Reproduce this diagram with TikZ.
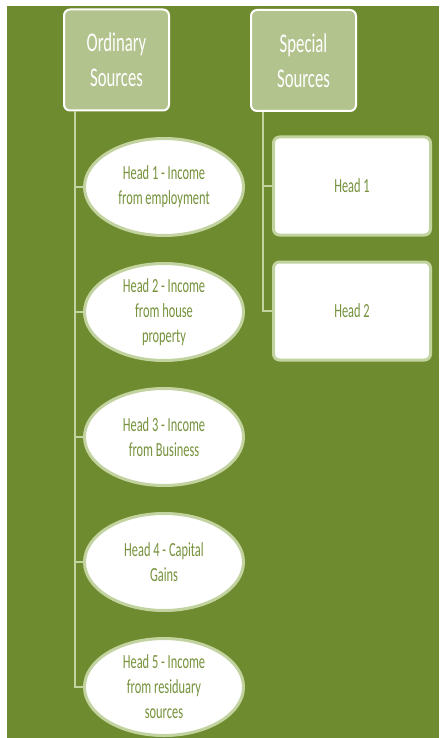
\documentclass[tikz,border=0pt]{standalone}
\usepackage{fontspec}
\setmainfont{Carlito}
\newfontfamily\narrowfont[FakeStretch=0.62]{Carlito}
\usetikzlibrary{shapes.geometric}

\definecolor{olivebg}{RGB}{111,139,48}
\definecolor{palegreen}{RGB}{179,195,142}
\definecolor{rimgreen}{RGB}{194,211,160}
\definecolor{textgreen}{RGB}{118,146,60}

\tikzset{
    source/.style={draw=white, line width=2pt, fill=palegreen, rounded corners=6pt,
        minimum width=105pt, minimum height=101pt, align=center, text=white,
        font=\narrowfont\fontsize{27}{35}\selectfont},
    headoval/.style={ellipse, draw=rimgreen, line width=3pt, fill=white, inner sep=0pt,
        minimum width=159pt, minimum height=97pt, align=center, text=textgreen,
        font=\narrowfont\fontsize{20}{25}\selectfont},
    headbox/.style={draw=rimgreen, line width=3pt, fill=white, rounded corners=6pt,
        minimum width=157pt, minimum height=98pt, text=textgreen,
        font=\narrowfont\fontsize{20}{25}\selectfont},
    link/.style={draw=rimgreen, line width=2pt}
}

\begin{document}
\begin{tikzpicture}[x=1pt,y=-1pt]
    \useasboundingbox (0,0) rectangle (439,738);
    \fill [olivebg] (7,6) rectangle (439,738);

    % the two kinds of sources
    \node [source] (ord) at (116.5,60) {Ordinary\\Sources};
    \node [source] (spec) at (303.5,60.5) {Special\\Sources};

    % ordinary heads
    \foreach \n/\y/\txt in {1/187/{Head 1 - Income\\from employment},
                           2/312/{Head 2 - Income\\from house\\property},
                           3/437/{Head 3 - Income\\from Business},
                           4/562/{Head 4 - Capital\\Gains},
                           5/687/{Head 5 - Income\\from residuary\\sources}} {
        \node [headoval] (h\n) at (164,\y) {\txt};
    }
    \foreach \n in {1,...,5} {
        \draw [link] ([xshift=12pt]ord.south west) |- (h\n.west);
    }

    % special heads
    \foreach \n/\y in {1/186,2/311} {
        \node [headbox] (s\n) at (352,\y) {Head \n};
        \draw [link] ([xshift=13pt]spec.south west) |- (s\n.west);
    }
\end{tikzpicture}
\end{document}
